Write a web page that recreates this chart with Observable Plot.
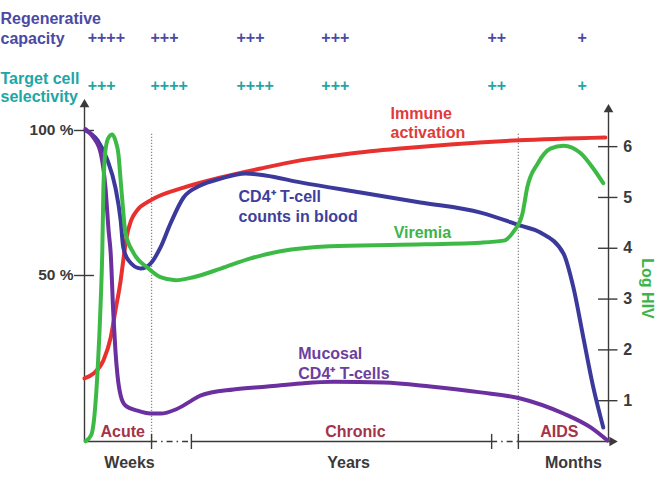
<!DOCTYPE html>
<html><head><meta charset="utf-8">
<script src="https://cdn.jsdelivr.net/npm/d3@7"></script>
<script src="https://cdn.jsdelivr.net/npm/@observablehq/plot@0.6"></script>
<style>html,body{margin:0;padding:0;background:#fff;} #chart svg{display:block;}</style>
</head><body><div id="chart"></div>
<script>
// ---- data (x: time in relative units 0-100 across the course; y: % of normal, or log HIV) ----
const immuneX   = [0,1.7,3.6,5.0,5.9,6.9,7.4,8.0,8.9,10.0,12.6,18.9,26.0,33.6,41.2,50.8,60.3,69.8,82.8,99.4];
const immunePct = [14.5,16.2,20.7,28.6,37.9,48.3,55.2,63,69,72.4,75.9,80.3,83.8,86.9,89.7,92.1,93.8,95.2,96.6,97.6];

const bloodCD4X   = [0.2,2.5,4.4,5.9,6.9,7.4,8.4,10.7,12.6,14.5,16.4,18.9,22.1,26.0,30.7,34.5,41.2,52.7,64.1,75.6,83.2,87.0,91.4,93.3,95.2,97.1,99.0];
const bloodCD4Pct = [100,96.6,89.7,80.3,69.0,59.7,55.2,52.4,54.1,59.7,67.9,76.9,81.0,83.4,85.2,84.5,82.1,78.6,75.2,71.7,67.2,64.8,57.6,45.9,28.6,11.4,-2.4];

const viremiaX   = [0.2,1.3,1.9,2.5,3.1,3.4,3.6,4.0,4.6,5.3,5.9,6.5,6.9,7.3,7.8,9.4,12.0,14.5,17.4,20.8,26.0,31.7,37.4,46.9,60.3,75.6,80.0,81.9,83.6,84.5,86.5,88.9,91.4,94.7,97.1,99.0];
const viremiaLog = [0.20,0.33,0.71,1.59,2.97,3.96,5.14,5.93,6.18,6.24,6.12,5.83,5.33,4.84,4.31,3.90,3.62,3.43,3.37,3.43,3.60,3.80,3.94,4.04,4.07,4.11,4.15,4.33,4.69,5.20,5.67,5.96,6.02,5.87,5.57,5.28];

const mucosalX   = [0.2,1.7,3.1,4.0,4.6,5.0,5.5,5.9,6.3,6.9,7.8,10.1,12.6,14.5,17.4,20.2,22.1,28.4,34.9,41.2,47.5,57.1,66.0,75.6,83.2,91.4,96.6,99.8];
const mucosalPct = [100.5,97.6,92.1,80.3,65.5,57.6,36.9,24.1,15.5,8.6,5.2,3.4,2.4,2.4,3.8,6.6,8.6,10.7,11.7,12.8,13.4,13.1,11.7,9.7,7.6,2.4,-2.4,-6.9];

const percentTicks = [100, 50];
const percentLabels = ["100 %", "50 %"];
const logTicks = [1, 2, 3, 4, 5, 6];

const phaseBoundaries = [12.8, 82.8];
const axisBreaks = [12.8, 20.4, 77.7, 82.8];
const phaseNames = ["Acute", "Chronic", "AIDS"];
const phaseCenters = [7.3, 51.7, 90.6];
const timeUnits = ["Weeks", "Years", "Months"];
const timeUnitCenters = [8.6, 50.4, 93.3];

const stageX = [0.6, 12.6, 29.0, 45.2, 76.9, 94.1];
const regenerativeCapacity = ["++++", "+++", "+++", "+++", "++", "+"];
const targetCellSelectivity = ["+++", "++++", "++++", "+++", "++", "+"];

// ---- scales helpers ----
const logToPct = v => -10.69 + 17.52 * v;   // right axis (Log HIV) -> left axis (%)
const BASE = -7.24;                          // y of time axis
const zip = (xs, ys, f = v => v) => xs.map((x, i) => ({x, y: f(ys[i])}));

const FONT = "'Liberation Sans', Arial, Helvetica, sans-serif";
const AX = "#3a3a3a";
const txt = {fontFamily: FONT, fontWeight: "bold", fontSize: 16};

const solidSegs = [[0, axisBreaks[0]], [axisBreaks[1], axisBreaks[2]], [axisBreaks[3], 100.6]];
const dashSegs  = [[axisBreaks[0], axisBreaks[1]], [axisBreaks[2], axisBreaks[3]]];

const chart = Plot.plot({
  width: 658, height: 488,
  marginLeft: 84, marginRight: 50, marginTop: 100, marginBottom: 47,
  x: {domain: [0, 100], axis: null},
  y: {domain: [BASE, 110.34], axis: null},
  style: {fontFamily: FONT, background: "#fff", overflow: "visible"},
  marks: [
    // phase boundaries
    Plot.ruleX(phaseBoundaries, {y1: BASE, y2: 99, stroke: "#8a8a8a", strokeWidth: 1.3, strokeDasharray: "1.2,1.8"}),
    // axes
    Plot.ruleX([0], {y1: BASE, y2: 108.5, stroke: AX, strokeWidth: 1.4}),
    Plot.ruleX([100], {y1: BASE, y2: 107, stroke: AX, strokeWidth: 1.4}),
    Plot.ruleY(solidSegs, {y: BASE, x1: d => d[0], x2: d => d[1], stroke: AX, strokeWidth: 1.4}),
    Plot.ruleY(dashSegs, {y: BASE, x1: d => d[0], x2: d => d[1], stroke: AX, strokeWidth: 1.4, strokeDasharray: "6,4,1.5,4"}),
    Plot.ruleX(axisBreaks, {y1: -4.8, y2: -10.0, stroke: AX, strokeWidth: 1.4}),
    Plot.dot([{x: 0, y: 108.97, r: 0}], {x: "x", y: "y", symbol: "triangle", r: 3.6, fill: AX}),
    Plot.dot([{x: 100, y: 107.24}], {x: "x", y: "y", symbol: "triangle", r: 3.6, fill: AX}),
    Plot.dot([{x: 100.7, y: BASE}], {x: "x", y: "y", symbol: "triangle", r: 3.6, fill: AX, rotate: 90}),
    // left ticks
    Plot.ruleY(percentTicks, {x1: -1.9, x2: 1.9, stroke: AX, strokeWidth: 1.4}),
    Plot.text(percentTicks, {x: -2.1, y: d => d, text: (d, i) => percentLabels[i], textAnchor: "end", fill: AX, ...txt, fontSize: 15.5}),
    // right ticks
    Plot.ruleY(logTicks, {y: d => logToPct(d), x1: 98.1, x2: 101.8, stroke: AX, strokeWidth: 1.4}),
    Plot.text(logTicks, {x: 102.8, y: d => logToPct(d), text: d => String(d), textAnchor: "start", fill: AX, ...txt}),
    Plot.text(["Log HIV"], {x: 107.3, y: 45.5, text: d => d, rotate: 90, fill: "#3cb44a", ...txt}),
    // curves
    Plot.line(zip(immuneX, immunePct), {x: "x", y: "y", stroke: "#e8312f", strokeWidth: 4, curve: "monotone-x"}),
    Plot.line(zip(bloodCD4X, bloodCD4Pct), {x: "x", y: "y", stroke: "#3b3a9c", strokeWidth: 4, curve: "monotone-x"}),
    Plot.line(zip(mucosalX, mucosalPct), {x: "x", y: "y", stroke: "#6b2fa0", strokeWidth: 4, curve: "monotone-x"}),
    Plot.line(zip(viremiaX, viremiaLog, logToPct), {x: "x", y: "y", stroke: "#3dba46", strokeWidth: 4, curve: "monotone-x"}),
    // curve labels
    Plot.text(["Immune\nactivation"], {x: 58.4, y: 102.9, text: d => d, textAnchor: "start", lineHeight: 1.2, fill: "#e23a3a", ...txt}),
    Plot.text(["CD4⁺ T-cell\ncounts in blood"], {x: 29.4, y: 74.1, text: d => d, textAnchor: "start", lineHeight: 1.25, fill: "#3f3f9a", ...txt}),
    Plot.text(["Viremia"], {x: 59.0, y: 64.8, text: d => d, textAnchor: "start", fill: "#3cb44a", ...txt}),
    Plot.text(["Mucosal\nCD4⁺ T-cells"], {x: 40.8, y: 20.0, text: d => d, textAnchor: "start", lineHeight: 1.25, fill: "#6b3fa0", ...txt}),
    // phases and time units
    Plot.text(phaseNames, {x: (d, i) => phaseCenters[i], y: -4.0, text: d => d, fill: "#a5334a", ...txt}),
    Plot.text(timeUnits, {x: (d, i) => timeUnitCenters[i], y: -14.5, text: d => d, fill: AX, ...txt}),
    // top rows
    Plot.text(["Regenerative\ncapacity"], {x: -16.03, y: 135.5, text: d => d, textAnchor: "start", lineHeight: 1.25, fill: "#4a4aa6", ...txt}),
    Plot.text(regenerativeCapacity, {x: (d, i) => stageX[i], y: 132.07, text: d => d, textAnchor: "start", fill: "#4a4aa6", ...txt}),
    Plot.text(["Target cell\nselectivity"], {x: -16.03, y: 115.0, text: d => d, textAnchor: "start", lineHeight: 1.15, fill: "#1ea6a6", ...txt}),
    Plot.text(targetCellSelectivity, {x: (d, i) => stageX[i], y: 115.5, text: d => d, textAnchor: "start", fill: "#1ea6a6", ...txt})
  ]
});
document.getElementById("chart").appendChild(chart);
</script>
</body></html>
